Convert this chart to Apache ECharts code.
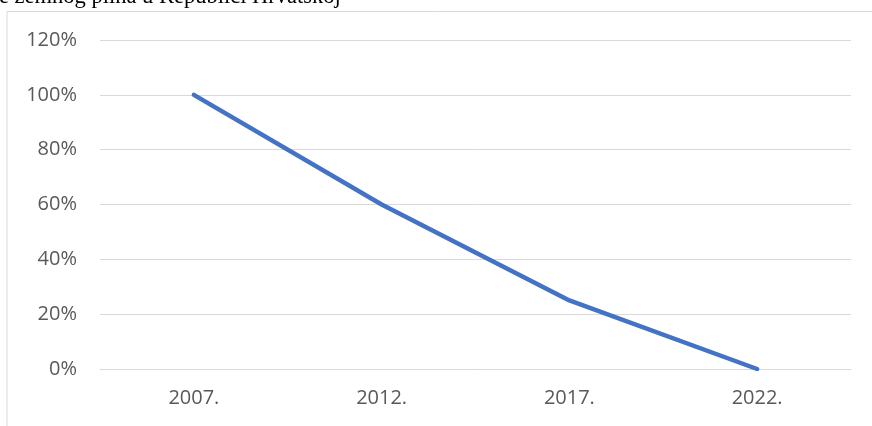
<!DOCTYPE html>
<html>
<head>
<meta charset="utf-8">
<script src="https://cdn.jsdelivr.net/npm/echarts@6/dist/echarts.min.js"></script>
<style>
  html, body { margin: 0; padding: 0; background: #fff; }
  #chart { width: 872px; height: 426px; }
</style>
</head>
<body>
<div id="chart"></div>
<script>
// godine i udio (u %)
var years = ['2007.', '2012.', '2017.', '2022.'];
var share = [100, 60, 25, 0];
var yTicks = { min: 0, max: 120, step: 20 };

var chart = echarts.init(document.getElementById('chart'));

var option = {
    animation: false,
    graphic: [
        {
            type: 'text',
            left: -1,
            top: -14,
            style: {
                text: 'e zemnog plina u Republici Hrvatskoj',
                font: '22.5px "Liberation Serif", "Times New Roman", serif',
                fill: '#000'
            }
        },
        {
            type: 'polyline',
            shape: { points: [[7, 426], [7, 11.5], [872, 11.5]] },
            style: { stroke: '#d9d9d9', lineWidth: 1, fill: null }
        }
    ],
    grid: { left: 100, right: 21, top: 40, bottom: 57 },
    xAxis: {
        type: 'category',
        data: years,
        boundaryGap: true,
        axisLine: { show: true, lineStyle: { color: '#d9d9d9', width: 1 } },
        axisTick: { show: false },
        axisLabel: {
            color: '#595959',
            fontSize: 20,
            fontFamily: '"Open Sans", "Liberation Sans", sans-serif',
            margin: 19
        }
    },
    yAxis: {
        type: 'value',
        min: yTicks.min,
        max: yTicks.max,
        interval: yTicks.step,
        axisLine: { show: false },
        axisTick: { show: false },
        splitLine: { lineStyle: { color: '#d9d9d9', width: 1 } },
        axisLabel: {
            color: '#595959',
            fontSize: 20,
            fontFamily: '"Open Sans", "Liberation Sans", sans-serif',
            margin: 23,
            formatter: '{value}%'
        }
    },
    series: [
        {
            type: 'line',
            data: share,
            showSymbol: false,
            symbol: 'none',
            lineStyle: { color: '#4472c4', width: 4.5, cap: 'round', join: 'round' }
        }
    ]
};

chart.setOption(option);
</script>
</body>
</html>
